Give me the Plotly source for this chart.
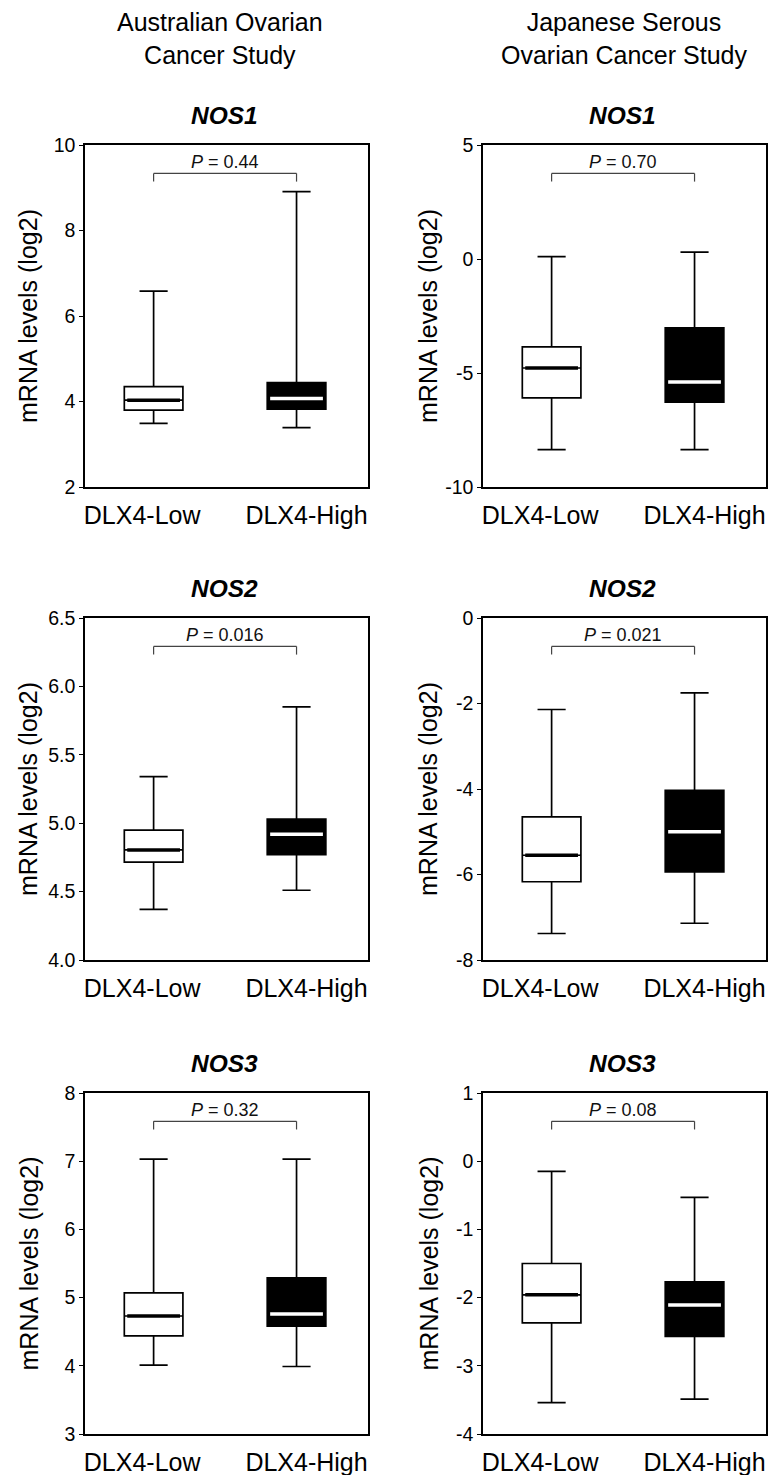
import plotly.graph_objects as go

# ---------------- data ----------------
groups = ["DLX4-Low", "DLX4-High"]
genes = ["NOS1", "NOS2", "NOS3"]
study_titles = ["Australian Ovarian<br>Cancer Study", "Japanese Serous<br>Ovarian Cancer Study"]
y_title = "mRNA levels (log2)"

# Australian Ovarian Cancer Study (box statistics: [Low, High])
aus_nos1_lower = [3.49, 3.39]
aus_nos1_q1 = [3.80, 3.82]
aus_nos1_median = [4.03, 4.07]
aus_nos1_q3 = [4.35, 4.44]
aus_nos1_upper = [6.58, 8.91]

aus_nos2_lower = [4.37, 4.51]
aus_nos2_q1 = [4.715, 4.77]
aus_nos2_median = [4.805, 4.92]
aus_nos2_q3 = [4.95, 5.03]
aus_nos2_upper = [5.34, 5.85]

aus_nos3_lower = [4.01, 3.99]
aus_nos3_q1 = [4.44, 4.58]
aus_nos3_median = [4.73, 4.76]
aus_nos3_q3 = [5.07, 5.29]
aus_nos3_upper = [7.03, 7.03]

# Japanese Serous Ovarian Cancer Study
jp_nos1_lower = [-8.36, -8.36]
jp_nos1_q1 = [-6.09, -6.28]
jp_nos1_median = [-4.78, -5.39]
jp_nos1_q3 = [-3.85, -3.02]
jp_nos1_upper = [0.10, 0.30]

jp_nos2_lower = [-7.38, -7.14]
jp_nos2_q1 = [-6.17, -5.94]
jp_nos2_median = [-5.55, -5.00]
jp_nos2_q3 = [-4.65, -4.03]
jp_nos2_upper = [-2.14, -1.75]

jp_nos3_lower = [-3.54, -3.49]
jp_nos3_q1 = [-2.37, -2.57]
jp_nos3_median = [-1.96, -2.11]
jp_nos3_q3 = [-1.50, -1.77]
jp_nos3_upper = [-0.15, -0.53]

p_values = ["0.44", "0.70", "0.016", "0.021", "0.32", "0.08"]

aus_nos1_ticks = ["2", "4", "6", "8", "10"]
aus_nos2_ticks = ["4.0", "4.5", "5.0", "5.5", "6.0", "6.5"]
aus_nos3_ticks = ["3", "4", "5", "6", "7", "8"]
jp_nos1_ticks = ["-10", "-5", "0", "5"]
jp_nos2_ticks = ["-8", "-6", "-4", "-2", "0"]
jp_nos3_ticks = ["-4", "-3", "-2", "-1", "0", "1"]

# ---------------- panels ----------------
panels = [
    (aus_nos1_lower, aus_nos1_q1, aus_nos1_median, aus_nos1_q3, aus_nos1_upper, aus_nos1_ticks),
    (jp_nos1_lower, jp_nos1_q1, jp_nos1_median, jp_nos1_q3, jp_nos1_upper, jp_nos1_ticks),
    (aus_nos2_lower, aus_nos2_q1, aus_nos2_median, aus_nos2_q3, aus_nos2_upper, aus_nos2_ticks),
    (jp_nos2_lower, jp_nos2_q1, jp_nos2_median, jp_nos2_q3, jp_nos2_upper, jp_nos2_ticks),
    (aus_nos3_lower, aus_nos3_q1, aus_nos3_median, aus_nos3_q3, aus_nos3_upper, aus_nos3_ticks),
    (jp_nos3_lower, jp_nos3_q1, jp_nos3_median, jp_nos3_q3, jp_nos3_upper, jp_nos3_ticks),
]

W, H = 769, 1475
FONT = "Liberation Sans, Arial, sans-serif"
col_px = [(85, 368), (483, 766)]
row_px = [(145, 487), (618, 960), (1093, 1434)]
ytitle_px = [28, 428]
positions = [0, 1]
label_offsets = [-0.08, 0.07]
box_w = 0.41
fills = ["white", "black"]
median_colors = ["black", "white"]

fig = go.Figure()
layout_axes = {}
shapes = []
annotations = []

for k, (lo, q1, med, q3, up, ticks) in enumerate(panels):
    r, c = divmod(k, 2)
    idx = k + 1
    xa = "x" if idx == 1 else f"x{idx}"
    ya = "y" if idx == 1 else f"y{idx}"
    xd = [col_px[c][0] / W, col_px[c][1] / W]
    yd = [1 - row_px[r][1] / H, 1 - row_px[r][0] / H]
    tickvals = [float(t) for t in ticks]
    for g in range(2):
        fig.add_trace(go.Box(
            x=[positions[g]], q1=[q1[g]], median=[med[g]], q3=[q3[g]],
            lowerfence=[lo[g]], upperfence=[up[g]],
            fillcolor=fills[g], line=dict(color="black", width=1.7),
            whiskerwidth=0.48, width=box_w, boxpoints=False,
            xaxis=xa, yaxis=ya, showlegend=False, hoverinfo="skip",
        ))
        half = box_w / 2 * 0.9
        fig.add_trace(go.Scatter(
            x=[positions[g] - half, positions[g] + half], y=[med[g], med[g]],
            mode="lines", line=dict(color=median_colors[g], width=3.5),
            xaxis=xa, yaxis=ya, showlegend=False, hoverinfo="skip",
        ))
    axkey_x = "xaxis" if idx == 1 else f"xaxis{idx}"
    axkey_y = "yaxis" if idx == 1 else f"yaxis{idx}"
    layout_axes[axkey_x] = dict(
        domain=xd, anchor=ya, range=[-0.48, 1.5],
        tickvals=[p + o for p, o in zip(positions, label_offsets)], ticktext=groups,
        ticks="", ticklabelstandoff=5,
        showline=True, mirror=True, linecolor="black", linewidth=1.5,
        showgrid=False, zeroline=False,
        tickfont=dict(family=FONT, size=25, color="black"),
    )
    layout_axes[axkey_y] = dict(
        domain=yd, anchor=xa, range=[tickvals[0], tickvals[-1]],
        tickvals=tickvals, ticktext=ticks,
        ticks="outside", ticklen=4, tickwidth=1.2, tickcolor="black",
        showline=True, mirror=True, linecolor="black", linewidth=1.5,
        showgrid=False, zeroline=False,
        tickfont=dict(family=FONT, size=19.5, color="black"),
    )
    # y-axis title
    annotations.append(dict(
        x=ytitle_px[c] / W, y=sum(yd) / 2, xref="paper", yref="paper",
        text=y_title, textangle=-90, showarrow=False,
        font=dict(family=FONT, size=25, color="black"),
        xanchor="center", yanchor="middle",
    ))
    # significance bracket
    xr = xa
    yr = f"{ya} domain"
    for (x0, y0, x1, y1) in [(positions[0], 0.893, positions[0], 0.917),
                             (positions[0], 0.917, positions[1], 0.917),
                             (positions[1], 0.917, positions[1], 0.893)]:
        shapes.append(dict(type="line", xref=xr, yref=yr, x0=x0, x1=x1, y0=y0, y1=y1,
                           line=dict(color="#444444", width=1.2)))
    annotations.append(dict(
        x=(positions[0] + positions[1]) / 2, y=0.951, xref=xr, yref=yr,
        text=f"<i>P</i> = {p_values[k]}", showarrow=False,
        font=dict(family=FONT, size=18, color="#111111"),
        xanchor="center", yanchor="middle",
    ))
    # gene title
    annotations.append(dict(
        x=(sum(xd) / 2) - 2.5 / W, y=1, xref="paper", yref=yr, yshift=30,
        text=f"<b><i>{genes[r]}</i></b>", showarrow=False,
        font=dict(family=FONT, size=24.5, color="black"),
        xanchor="center", yanchor="middle",
    ))

# study titles
for c, (tx, t) in enumerate(zip([220, 624], study_titles)):
    annotations.append(dict(
        x=tx / W, y=1 - 38 / H, xref="paper", yref="paper",
        text=t, showarrow=False, align="center",
        font=dict(family=FONT, size=25, color="black"),
        xanchor="center", yanchor="middle",
    ))

fig.update_layout(
    width=W, height=H, template="none",
    margin=dict(l=0, r=0, t=0, b=0),
    paper_bgcolor="white", plot_bgcolor="white",
    showlegend=False, shapes=shapes, annotations=annotations,
    **layout_axes,
)

fig.write_html("out.html", config={"displayModeBar": False},
               post_script="document.body.style.margin='0px';")
